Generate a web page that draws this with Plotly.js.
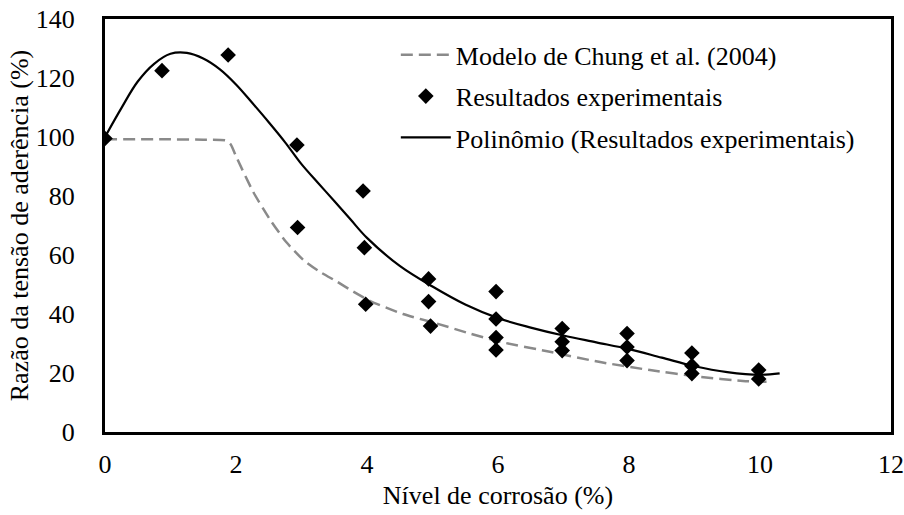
<!DOCTYPE html>
<html>
<head>
<meta charset="utf-8">
<script src="https://cdn.plot.ly/plotly-3.0.1.min.js"></script>
<style>html,body{margin:0;padding:0;background:#fff;}#chart{width:904px;height:515px;}</style>
</head>
<body>
<div id="chart"></div>
<script>
// Experimental results
const expX = [0, 0.87, 1.88, 2.93, 2.94, 3.94, 3.96, 3.98, 4.94, 4.94, 4.97, 5.97, 5.97, 5.97, 5.97, 6.98, 6.98, 6.98, 7.97, 7.97, 7.97, 8.96, 8.96, 8.96, 9.98, 9.98];
const expY = [99.5, 122.5, 127.8, 97.3, 69.3, 81.7, 62.5, 43.3, 51.9, 44.2, 35.9, 47.6, 38.3, 32.0, 27.8, 35.1, 30.6, 27.6, 33.4, 28.8, 24.2, 26.8, 22.5, 19.8, 21.0, 18.0];

// Modelo de Chung et al. (2004)
const chungX = [0, 1.0, 1.5, 1.85, 1.92, 2.0, 2.26, 2.52, 2.77, 3.03, 3.28, 3.54, 3.79, 4.05, 4.55, 5.06, 5.57, 6.03, 6.79, 7.56, 8.32, 9.08, 9.74, 10.1];
const chungY = [99.2, 99.2, 99.1, 98.8, 97.5, 93.5, 81.5, 72.0, 64.3, 58.3, 54.3, 51.0, 47.6, 44.4, 40.0, 36.8, 33.4, 30.6, 27.2, 23.7, 21.0, 18.7, 17.3, 17.0];

// Polinômio (Resultados experimentais)
const polyX = [0, 0.25, 0.5, 0.75, 1.0, 1.25, 1.5, 1.75, 2.0, 2.25, 2.5, 2.75, 3.0, 3.25, 3.5, 3.75, 4.0, 4.5, 5.0, 5.5, 6.0, 6.5, 7.0, 7.5, 8.0, 8.5, 9.0, 9.5, 10.0, 10.3];
const polyY = [100, 109.8, 118.8, 124.8, 128.2, 128.5, 126.6, 123.0, 117.8, 111.5, 105.0, 98.2, 90.8, 84.5, 78.3, 72.0, 65.8, 56.3, 49.3, 43.2, 38.6, 35.4, 32.7, 30.4, 28.1, 25.2, 22.3, 20.3, 19.4, 19.9];

const xTicks = [0, 2, 4, 6, 8, 10, 12];
const yTicks = [0, 20, 40, 60, 80, 100, 120, 140];

const FONT = "Liberation Serif, 'Times New Roman', serif";
const FS = 26;

const traces = [
  {
    x: chungX, y: chungY, type: 'scatter', mode: 'lines',
    name: 'Modelo de Chung et al. (2004)', legendgroup: 'a',
    line: {color: '#8a8a8a', width: 2.5, dash: '12px,6px', shape: 'spline', smoothing: 0.6}
  },
  {
    x: expX, y: expY, type: 'scatter', mode: 'markers',
    name: 'Resultados experimentais', legendgroup: 'b',
    marker: {symbol: 'diamond', size: 12, color: '#000000'}
  },
  {
    x: polyX, y: polyY, type: 'scatter', mode: 'lines',
    name: 'Polinômio (Resultados experimentais)', legendgroup: 'c',
    line: {color: '#000000', width: 2.2, shape: 'spline', smoothing: 1}
  }
];

const layout = {
  width: 904, height: 515,
  margin: {l: 105, r: 13, t: 19, b: 83},
  paper_bgcolor: '#ffffff', plot_bgcolor: '#ffffff',
  font: {family: FONT, size: FS, color: '#000000'},
  showlegend: true,
  legend: {
    x: 0.37, y: 0.97, xanchor: 'left', yanchor: 'top',
    bgcolor: 'rgba(0,0,0,0)', borderwidth: 0,
    font: {family: FONT, size: FS, color: '#000000'},
    itemwidth: 50, traceorder: 'grouped', tracegroupgap: 4.5
  },
  xaxis: {
    range: [0, 12], tickvals: xTicks, ticktext: xTicks.map(String),
    showgrid: false, zeroline: false,
    showline: true, linecolor: '#000000', linewidth: 3, mirror: true,
    ticks: '', ticklabelstandoff: 7,
    tickfont: {family: FONT, size: FS, color: '#000000'},
    title: {text: 'Nível de corrosão (%)', font: {family: FONT, size: FS, color: '#000000'}, standoff: 8}
  },
  yaxis: {
    range: [0, 140], tickvals: yTicks, ticktext: yTicks.map(String),
    showgrid: false, zeroline: false,
    showline: true, linecolor: '#000000', linewidth: 3, mirror: true,
    ticks: '', ticklabelstandoff: 22,
    tickfont: {family: FONT, size: FS, color: '#000000'},
    title: {text: 'Razão da tensão de aderência (%)', font: {family: FONT, size: FS, color: '#000000'}, standoff: 0}
  }
};

Plotly.newPlot('chart', traces, layout, {displayModeBar: false, staticPlot: true});
</script>
</body>
</html>
